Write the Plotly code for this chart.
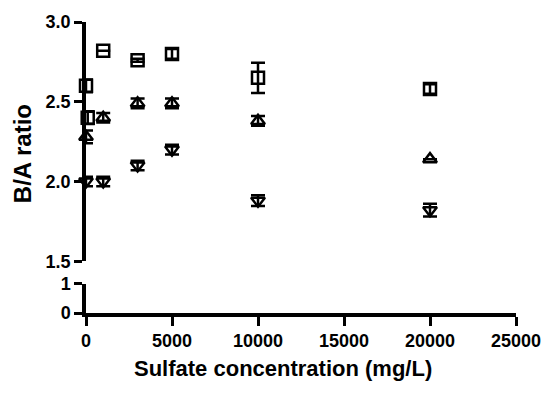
import plotly.graph_objects as go

# Data
sq_x = [0, 100, 1000, 3000, 5000, 10000, 20000]
sq_y = [2.60, 2.40, 2.82, 2.76, 2.80, 2.65, 2.58]
sq_err = [0.04, 0.04, 0.0, 0.01, 0.03, 0.095, 0.03]

tu_x = [0, 1000, 3000, 5000, 10000, 20000]
tu_y = [2.28, 2.40, 2.49, 2.49, 2.38, 2.14]
tu_err = [0.04, 0.03, 0.03, 0.03, 0.03, 0.0]

td_x = [0, 1000, 3000, 5000, 10000, 20000]
td_y = [2.00, 2.00, 2.10, 2.20, 1.88, 1.82]
td_err = [0.03, 0.03, 0.03, 0.03, 0.033, 0.04]

x_ticks = [0, 5000, 10000, 15000, 20000, 25000]
upper_ticks = [1.5, 2.0, 2.5, 3.0]
upper_labels = ["1.5", "2.0", "2.5", "3.0"]
lower_ticks = [0, 1]
lower_labels = ["0", "1"]

x_title = "Sulfate concentration (mg/L)"
y_title = "B/A ratio"

FONT = "Liberation Sans, Arial, sans-serif"

fig = go.Figure()

def add_series(x, y, err, symbol):
    fig.add_trace(go.Scatter(
        x=x, y=y, mode="markers", xaxis="x", yaxis="y",
        marker=dict(symbol=symbol, size=12, color="black",
                    line=dict(color="black", width=2.5)),
        error_y=dict(type="data", array=err, visible=True,
                     color="black", thickness=2.5, width=7),
        cliponaxis=False, showlegend=False,
    ))

add_series(sq_x, sq_y, sq_err, "square-open")
add_series(tu_x, tu_y, tu_err, "triangle-up-open")
add_series(td_x, td_y, td_err, "triangle-down-open")

# invisible trace to instantiate the lower y axis
fig.add_trace(go.Scatter(x=[None], y=[None], xaxis="x", yaxis="y2",
                         showlegend=False, hoverinfo="skip"))

tickfont = dict(family=FONT, size=18, color="black")

W, H = 553, 394
left_px, right_px = 86, 525
top_px, bot_px = 15, 313
plot_w = right_px - left_px
plot_h = bot_px - top_px
up_bottom = (bot_px - 260) / plot_h
low_top = (bot_px - 283) / plot_h

def b(s):
    return "<b>" + s + "</b>"

axis_common = dict(
    showgrid=False, zeroline=False,
    showline=True, linecolor="black", linewidth=3.5,
    ticks="outside", tickwidth=3, tickcolor="black",
    tickfont=tickfont,
)

fig.update_layout(
    width=W, height=H,
    margin=dict(l=left_px, r=W - right_px, t=top_px, b=H - bot_px, pad=0),
    paper_bgcolor="white", plot_bgcolor="white",
    xaxis=dict(
        range=[0, 25000], tickvals=x_ticks,
        ticktext=[b(str(v)) for v in x_ticks],
        anchor="y2", ticklen=9,
        **axis_common,
    ),
    yaxis=dict(
        domain=[up_bottom, 1], range=[1.5, 3.0], tickvals=upper_ticks,
        ticktext=[b(s) for s in upper_labels],
        anchor="x", ticklen=8,
        **axis_common,
    ),
    yaxis2=dict(
        domain=[0, low_top], range=[0, 1], tickvals=lower_ticks,
        ticktext=[b(s) for s in lower_labels],
        anchor="x", ticklen=8,
        **axis_common,
    ),
    annotations=[
        dict(text=b(x_title), xref="paper", yref="paper",
             x=(287 - left_px) / plot_w, y=(bot_px - 370) / plot_h,
             xanchor="center", yanchor="middle", showarrow=False,
             font=dict(family=FONT, size=22, color="black")),
        dict(text=b(y_title), xref="paper", yref="paper",
             x=(21 - left_px) / plot_w, y=(bot_px - 150) / plot_h,
             xanchor="center", yanchor="middle", showarrow=False,
             textangle=-90,
             font=dict(family=FONT, size=24, color="black")),
    ],
)

fig.write_html("out.html")
